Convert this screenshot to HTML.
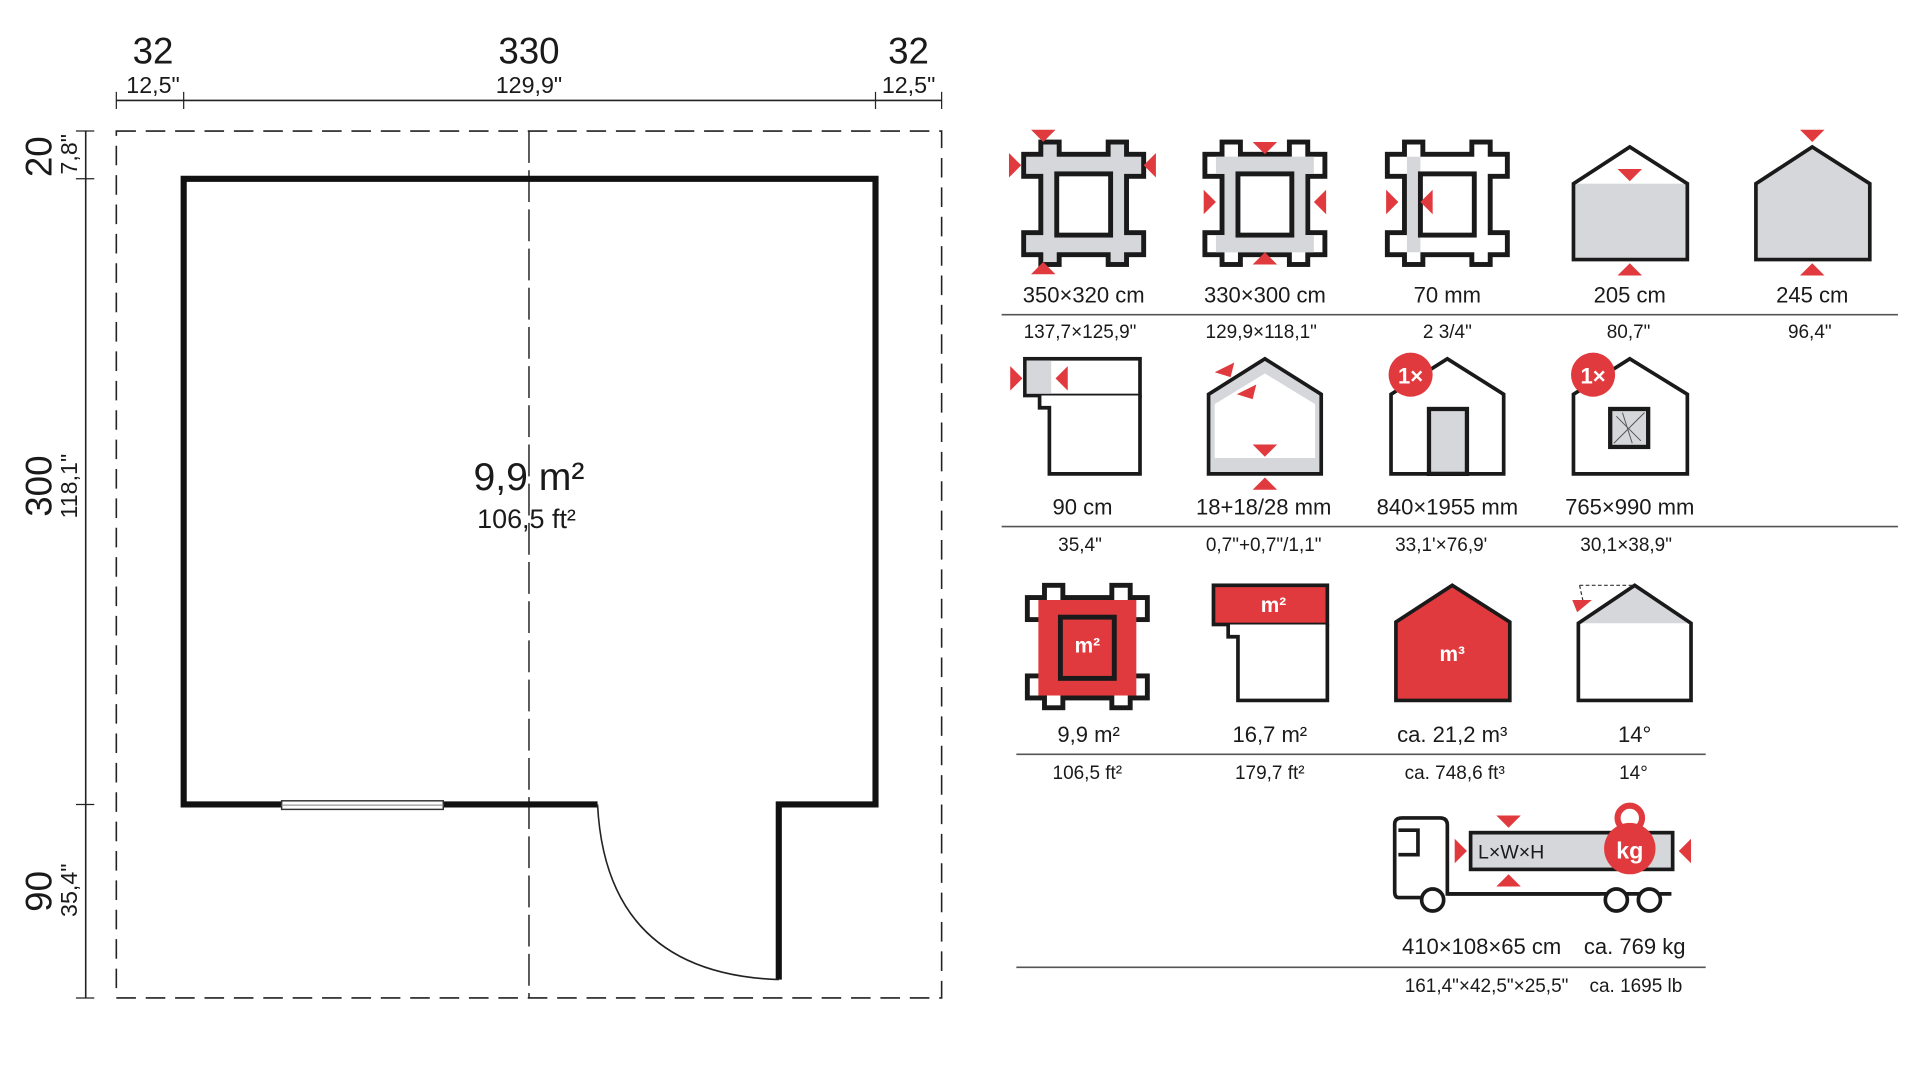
<!DOCTYPE html>
<html><head><meta charset="utf-8"><style>
html,body{margin:0;padding:0;background:#fff;}
svg{display:block;}
text{font-family:"Liberation Sans",sans-serif;fill:#1a1a1a;}
</style></head><body>
<svg width="1920" height="1080" viewBox="0 0 1568 882" preserveAspectRatio="none" xmlns="http://www.w3.org/2000/svg">
<defs>
<g id="frameO">
 <rect x="-47" y="-36" width="94" height="14"/><rect x="-47" y="28" width="94" height="14"/>
 <rect x="-33" y="-46" width="11" height="96"/><rect x="22" y="-46" width="11" height="96"/>
</g>
</defs>
<g stroke="#222" fill="none">
 <line x1="95" y1="82" x2="769" y2="82" stroke-width="1.3"/>
 <line x1="95" y1="75" x2="95" y2="89"/><line x1="150" y1="75" x2="150" y2="89"/>
 <line x1="715" y1="75" x2="715" y2="89"/><line x1="769" y1="75" x2="769" y2="89"/>
 <line x1="70" y1="107" x2="70" y2="815" stroke-width="1.3"/>
 <line x1="62" y1="107" x2="77" y2="107"/><line x1="62" y1="146" x2="77" y2="146"/>
 <line x1="62" y1="657" x2="77" y2="657"/><line x1="62" y1="815" x2="77" y2="815"/>
 <rect x="95" y="107" width="674" height="708" stroke-width="1.3" stroke-dasharray="16,8"/>
 <line x1="432" y1="107" x2="432" y2="815" stroke-width="1.2" stroke-dasharray="26,6"/>
 <path d="M488,657 H150 V146 H715 V657 H636 V800" stroke-width="5" stroke="#111"/>
 <path d="M488,657 Q495,795 636,800" stroke-width="1.3"/>
</g>
<rect x="230" y="654" width="132" height="7" fill="#fff" stroke="#333" stroke-width="1.2"/>
<line x1="230" y1="657.5" x2="362" y2="657.5" stroke="#999" stroke-width="1"/>
<g text-anchor="middle">
 <text x="125" y="52" font-size="30">32</text><text x="125" y="76" font-size="19">12,5"</text>
 <text x="432" y="52" font-size="30">330</text><text x="432" y="76" font-size="19">129,9"</text>
 <text x="742" y="52" font-size="30">32</text><text x="742" y="76" font-size="19">12,5"</text>
 <text x="432" y="400" font-size="32">9,9 m²</text>
 <text x="430" y="431" font-size="22">106,5 ft²</text>
</g>
<g font-size="30" text-anchor="middle">
 <text transform="translate(42,128) rotate(-90)">20</text>
 <text transform="translate(63,126) rotate(-90)" font-size="19">7,8"</text>
 <text transform="translate(42,397) rotate(-90)">300</text>
 <text transform="translate(63,397) rotate(-90)" font-size="19">118,1"</text>
 <text transform="translate(42,728) rotate(-90)">90</text>
 <text transform="translate(63,727) rotate(-90)" font-size="19">35,4"</text>
</g>

<g transform="translate(885,164)">
 <use href="#frameO" stroke="#1a1a1a" stroke-width="8" fill="#1a1a1a"/>
 <use href="#frameO" fill="#d5d7db"/>
 <rect x="-22" y="-22" width="44" height="50" fill="#fff" stroke="#1a1a1a" stroke-width="4"/>
</g>
<g transform="translate(1033,164)">
 <use href="#frameO" stroke="#1a1a1a" stroke-width="8" fill="#1a1a1a"/>
 <use href="#frameO" fill="#fff"/>
 <rect x="-40" y="-36" width="80" height="14" fill="#d5d7db"/><rect x="-40" y="28" width="80" height="14" fill="#d5d7db"/>
 <rect x="-33" y="-36" width="11" height="78" fill="#d5d7db"/><rect x="22" y="-36" width="11" height="78" fill="#d5d7db"/>
 <rect x="-22" y="-22" width="44" height="50" fill="#fff" stroke="#1a1a1a" stroke-width="4"/>
</g>
<g transform="translate(1182,164)">
 <use href="#frameO" stroke="#1a1a1a" stroke-width="8" fill="#1a1a1a"/>
 <use href="#frameO" fill="#fff"/>
 <rect x="-33" y="-36" width="11" height="78" fill="#d5d7db"/>
 <rect x="-22" y="-22" width="44" height="50" fill="#fff" stroke="#1a1a1a" stroke-width="4"/>
</g>
<path d="M1285,150 L1331,120 L1378,150 V212 H1285 Z" fill="#fff"/>
<rect x="1285" y="150" width="93" height="62" fill="#d5d7db"/>
<path d="M1285,150 L1331,120 L1378,150 V212 H1285 Z" fill="none" stroke="#1a1a1a" stroke-width="3"/>
<path d="M1434,150 L1480,120 L1527,150 V212 H1434 Z" fill="#d5d7db" stroke="#1a1a1a" stroke-width="3"/>
<g fill="#e03a3e">
 <path d="M842,106 h20 l-10,10z"/><path d="M842,224 h20 l-10,-10z"/>
 <path d="M824,125 v20 l10,-10z"/><path d="M944,125 v20 l-10,-10z"/>
 <path d="M1023,116 h20 l-10,10z"/><path d="M1023,216 h20 l-10,-10z"/>
 <path d="M983,155 v20 l10,-10z"/><path d="M1083,155 v20 l-10,-10z"/>
 <path d="M1132,155 v20 l10,-10z"/><path d="M1170,155 v20 l-10,-10z"/>
 <path d="M1321,138 h20 l-10,10z"/><path d="M1321,225 h20 l-10,-10z"/>
 <path d="M1470,106 h20 l-10,10z"/><path d="M1470,225 h20 l-10,-10z"/>
</g>
<g text-anchor="middle" font-size="18">
 <text x="885" y="247">350×320 cm</text><text x="1033" y="247">330×300 cm</text>
 <text x="1182" y="247">70 mm</text><text x="1331" y="247">205 cm</text><text x="1480" y="247">245 cm</text>
</g>
<line x1="818" y1="257" x2="1550" y2="257" stroke="#555" stroke-width="1.3"/>
<g text-anchor="middle" font-size="15.5">
 <text x="882" y="276">137,7×125,9"</text><text x="1030" y="276">129,9×118,1"</text>
 <text x="1182" y="276">2  3/4"</text><text x="1330" y="276">80,7"</text><text x="1478" y="276">96,4"</text>
</g>

<rect x="837" y="293" width="94" height="30" fill="#fff" stroke="#1a1a1a" stroke-width="3"/>
<rect x="838.5" y="294.5" width="20" height="27" fill="#d5d7db"/>
<path d="M849,323 V333 H857 V387 H931 V323" fill="#fff" stroke="#1a1a1a" stroke-width="3"/>
<g fill="#e03a3e"><path d="M825,299 v20 l10,-10z"/><path d="M872,299 v20 l-10,-10z"/></g>

<path d="M987,322 L1033,293 L1079,322 V387 H987 Z" fill="#d5d7db"/>
<path d="M992,330 L1033,305 L1074,330 V374 H992 Z" fill="#fff"/>
<path d="M987,322 L1033,293 L1079,322 V387 H987 Z" fill="none" stroke="#1a1a1a" stroke-width="3"/>
<g fill="#e03a3e">
 <path d="M992,304 l16,-8 l-3,12z"/><path d="M1010,322 l16,-8 l-3,12z"/>
 <path d="M1023,363 h20 l-10,10z"/><path d="M1023,400 h20 l-10,-10z"/>
</g>

<path d="M1136,322 L1182,293 L1228,322 V387 H1136 Z" fill="#fff" stroke="#1a1a1a" stroke-width="3"/>
<rect x="1167" y="334" width="31" height="53" fill="#d5d7db" stroke="#1a1a1a" stroke-width="3.5"/>
<circle cx="1152" cy="306" r="18" fill="#e03a3e"/>
<text x="1152" y="313" text-anchor="middle" font-size="18" font-weight="bold" style="fill:#fff">1×</text>

<path d="M1285,322 L1331,293 L1378,322 V387 H1285 Z" fill="#fff" stroke="#1a1a1a" stroke-width="3"/>
<rect x="1315" y="334" width="31" height="31" fill="#d5d7db" stroke="#1a1a1a" stroke-width="3.5"/>
<path d="M1318,362 L1343,337 M1320,340 L1340,360 M1325,337 L1333,362" stroke="#555" stroke-width="0.8"/>
<circle cx="1301" cy="306" r="18" fill="#e03a3e"/>
<text x="1301" y="313" text-anchor="middle" font-size="18" font-weight="bold" style="fill:#fff">1×</text>

<g text-anchor="middle" font-size="18">
 <text x="884" y="420">90 cm</text><text x="1032" y="420">18+18/28 mm</text>
 <text x="1182" y="420">840×1955 mm</text><text x="1331" y="420">765×990 mm</text>
</g>
<line x1="818" y1="430" x2="1550" y2="430" stroke="#555" stroke-width="1.3"/>
<g text-anchor="middle" font-size="15.5">
 <text x="882" y="450">35,4"</text><text x="1032" y="450">0,7"+0,7"/1,1"</text>
 <text x="1177" y="450">33,1'×76,9'</text><text x="1328" y="450">30,1×38,9"</text>
</g>

<g transform="translate(888,526)">
 <use href="#frameO" stroke="#1a1a1a" stroke-width="8" fill="#1a1a1a"/>
 <use href="#frameO" fill="#fff"/>
 <rect x="-40" y="-36" width="80" height="78" fill="#e03a3e"/>
 <rect x="-22" y="-22" width="44" height="50" fill="#e03a3e" stroke="#1a1a1a" stroke-width="4"/>
 <text x="0" y="7" text-anchor="middle" font-size="17" font-weight="bold" style="fill:#fff">m²</text>
</g>
<rect x="991" y="478" width="93" height="32" fill="#e03a3e" stroke="#1a1a1a" stroke-width="3"/>
<text x="1040" y="500" text-anchor="middle" font-size="17" font-weight="bold" style="fill:#fff">m²</text>
<path d="M1003,510 V520 H1011 V572 H1084 V510" fill="#fff" stroke="#1a1a1a" stroke-width="3"/>
<path d="M1140,508 L1186,478 L1233,508 V572 H1140 Z" fill="#e03a3e" stroke="#1a1a1a" stroke-width="3"/>
<text x="1186" y="540" text-anchor="middle" font-size="17" font-weight="bold" style="fill:#fff">m³</text>
<path d="M1289,509 L1335,478 L1381,509 Z" fill="#d5d7db"/>
<path d="M1289,509 L1335,478 L1381,509 V572 H1289 Z" fill="none" stroke="#1a1a1a" stroke-width="3"/>
<line x1="1290" y1="478" x2="1335" y2="478" stroke="#333" stroke-width="1" stroke-dasharray="3,2"/>
<line x1="1290" y1="478" x2="1293" y2="492" stroke="#333" stroke-width="1" stroke-dasharray="3,2"/>
<path d="M1284,490 l16,0 l-12,10z" fill="#e03a3e"/>
<g text-anchor="middle" font-size="18">
 <text x="889" y="606">9,9 m²</text><text x="1037" y="606">16,7 m²</text>
 <text x="1186" y="606">ca. 21,2 m³</text><text x="1335" y="606">14°</text>
</g>
<line x1="830" y1="616" x2="1393" y2="616" stroke="#555" stroke-width="1.3"/>
<g text-anchor="middle" font-size="15.5">
 <text x="888" y="636">106,5 ft²</text><text x="1037" y="636">179,7 ft²</text>
 <text x="1188" y="636">ca. 748,6 ft³</text><text x="1334" y="636">14°</text>
</g>

<g fill="none" stroke="#1a1a1a" stroke-width="3">
 <path d="M1162,733 H1142 Q1139,733 1139,728 V673 Q1139,668 1145,668 H1176 Q1182,668 1182,674 V730 H1307"/>
 <path d="M1142,678 H1158 V698 H1142"/>
 <path d="M1182,730 H1365"/>
</g>
<g fill="#fff" stroke="#1a1a1a" stroke-width="3">
 <circle cx="1170" cy="735" r="9"/><circle cx="1320" cy="735" r="9"/><circle cx="1347" cy="735" r="9"/>
</g>
<rect x="1201" y="680" width="165" height="30" fill="#d5d7db" stroke="#1a1a1a" stroke-width="3"/>
<text x="1207" y="701" font-size="16">L×W×H</text>
<circle cx="1331" cy="668" r="10" fill="none" stroke="#e03a3e" stroke-width="5"/>
<circle cx="1331" cy="693" r="21" fill="#e03a3e"/>
<text x="1331" y="701" text-anchor="middle" font-size="19" font-weight="bold" style="fill:#fff">kg</text>
<g fill="#e03a3e">
 <path d="M1222,666 h20 l-10,10z"/><path d="M1222,724 h20 l-10,-10z"/>
 <path d="M1188,685 v20 l10,-10z"/><path d="M1381,685 v20 l-10,-10z"/>
</g>
<g text-anchor="middle" font-size="18">
 <text x="1210" y="779">410×108×65 cm</text><text x="1335" y="779">ca. 769 kg</text>
</g>
<line x1="830" y1="790" x2="1393" y2="790" stroke="#555" stroke-width="1.3"/>
<g text-anchor="middle" font-size="15.5">
 <text x="1214" y="810">161,4"×42,5"×25,5"</text><text x="1336" y="810">ca. 1695 lb</text>
</g>
</svg>
</body></html>
